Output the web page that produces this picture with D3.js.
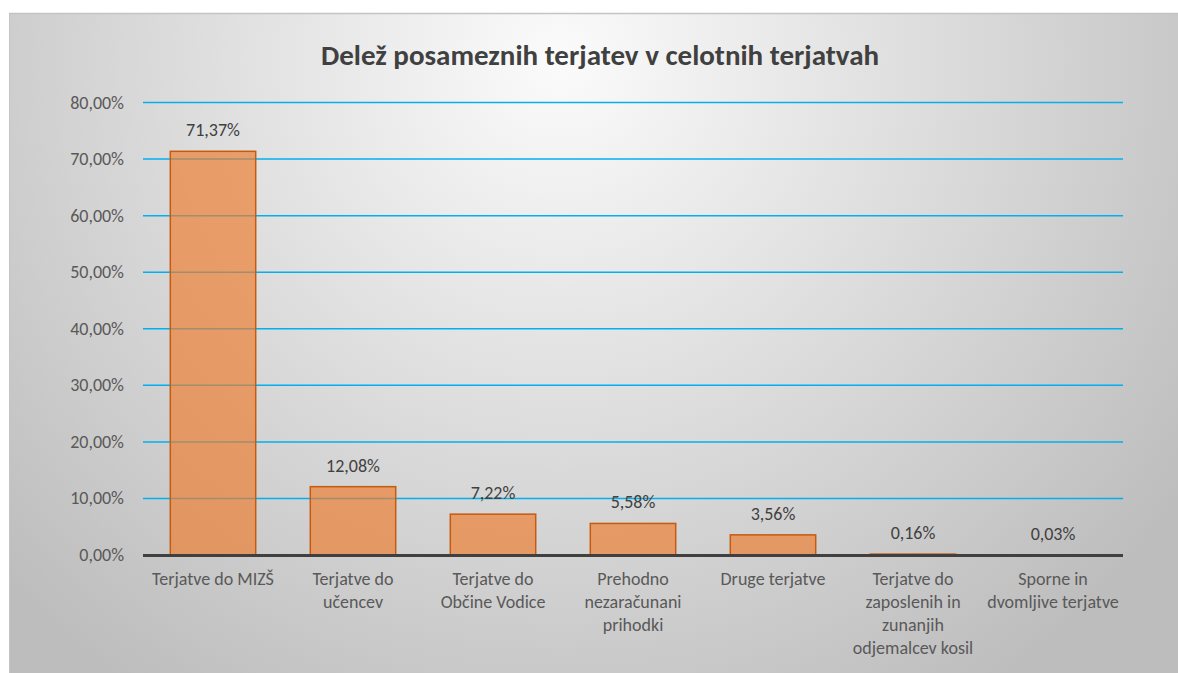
<!DOCTYPE html>
<html><head><meta charset="utf-8">
<script src="https://cdn.jsdelivr.net/npm/d3@7"></script>
<style>body{margin:0;background:#fff;}svg{display:block;}</style>
</head><body>
<svg id="c" width="1178" height="673"></svg>
<script>
const categories = [
  ["Terjatve do MIZŠ"],
  ["Terjatve do", "učencev"],
  ["Terjatve do", "Občine Vodice"],
  ["Prehodno", "nezaračunani", "prihodki"],
  ["Druge terjatve"],
  ["Terjatve do", "zaposlenih in", "zunanjih", "odjemalcev kosil"],
  ["Sporne in", "dvomljive terjatve"]
];
const values = [71.37, 12.08, 7.22, 5.58, 3.56, 0.16, 0.03];
const valueLabels = ["71,37%", "12,08%", "7,22%", "5,58%", "3,56%", "0,16%", "0,03%"];
const yTicks = [0, 10, 20, 30, 40, 50, 60, 70, 80];
const title = "Delež posameznih terjatev v celotnih terjatvah";

const font = "Carlito, Calibri, Lato, sans-serif";
const svg = d3.select("#c");
const defs = svg.append("defs");
const grad = defs.append("radialGradient").attr("id","bg")
  .attr("gradientUnits","userSpaceOnUse")
  .attr("cx",560).attr("cy",60).attr("r",760);
grad.append("stop").attr("offset","0").attr("stop-color","#fbfbfb");
grad.append("stop").attr("offset","1").attr("stop-color","#bdbdbd");

svg.append("rect").attr("x",9).attr("y",13).attr("width",1169).attr("height",660)
  .attr("fill","url(#bg)");
svg.append("line").attr("x1",9).attr("x2",1178).attr("y1",13.5).attr("y2",13.5)
  .attr("stroke","#c4c4c4").attr("stroke-width",1.5);
svg.append("line").attr("x1",9.5).attr("x2",9.5).attr("y1",13).attr("y2",673)
  .attr("stroke","#c4c4c4").attr("stroke-width",1);

const x = d3.scaleBand().domain(d3.range(categories.length)).range([143,1123]).paddingInner(0.39).paddingOuter(0.195);
const y = d3.scaleLinear().domain([0,80]).range([555,102.5]);

svg.append("text").attr("x",600).attr("y",65).attr("text-anchor","middle")
  .attr("font-family",font).attr("font-weight","bold").attr("font-size",29)
  .attr("fill","#404040").text(title);

// gridlines
svg.append("g").selectAll("line").data(yTicks.filter(d=>d>0)).join("line")
  .attr("x1",143).attr("x2",1123).attr("y1",d=>y(d)).attr("y2",d=>y(d))
  .attr("stroke","#00B0F0").attr("stroke-width",1.5);

// y tick labels
svg.append("g").selectAll("text").data(yTicks).join("text")
  .attr("x",124).attr("y",d=>y(d)+6).attr("text-anchor","end")
  .attr("font-family",font).attr("font-size",18).attr("fill","#595959")
  .text(d=>d3.format(".2f")(d).replace(".",",")+"%");

// bars
svg.append("g").selectAll("rect").data(values).join("rect")
  .attr("x",(d,i)=>x(i)).attr("width",x.bandwidth())
  .attr("y",d=>y(d)).attr("height",d=>y(0)-y(d))
  .attr("fill","#ED7D31").attr("fill-opacity",0.68)
  .attr("stroke","#C55A11").attr("stroke-width",1.5);

// baseline
svg.append("line").attr("x1",143).attr("x2",1123).attr("y1",y(0)+0.5).attr("y2",y(0)+0.5)
  .attr("stroke","#404040").attr("stroke-width",3);

// value labels
svg.append("g").selectAll("text").data(values).join("text")
  .attr("x",(d,i)=>x(i)+x.bandwidth()/2).attr("y",d=>y(d)-15)
  .attr("text-anchor","middle").attr("font-family",font).attr("font-size",18)
  .attr("fill","#404040").text((d,i)=>valueLabels[i]);

// category labels
const cg = svg.append("g").selectAll("text").data(categories).join("text")
  .attr("text-anchor","middle").attr("font-family",font).attr("font-size",18)
  .attr("fill","#595959");
cg.each(function(lines,i){
  const t = d3.select(this);
  lines.forEach((l,j)=>{
    t.append("tspan").attr("x",x(i)+x.bandwidth()/2).attr("y",585+j*23).text(l);
  });
});
</script>
</body></html>
